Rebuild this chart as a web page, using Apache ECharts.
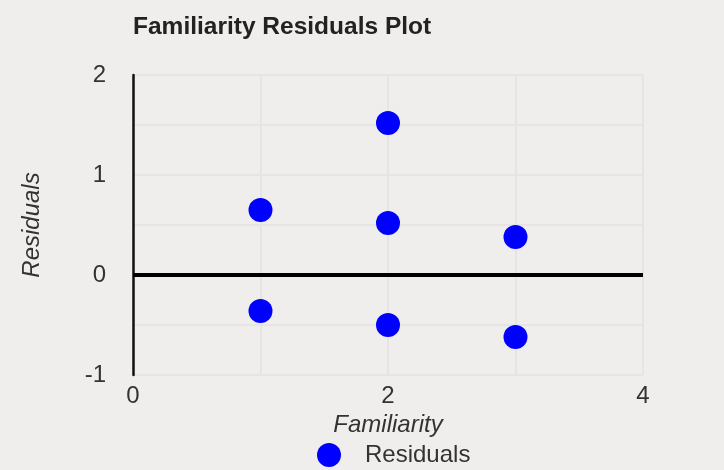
<!DOCTYPE html>
<html>
<head>
<meta charset="utf-8">
<script src="https://cdn.jsdelivr.net/npm/echarts@6/dist/echarts.min.js"></script>
<style>
  html, body { margin: 0; padding: 0; background: #ffffff; }
  #chart { width: 724px; height: 470px; }
</style>
</head>
<body>
<div id="chart"></div>
<script>
// residuals
const familiarity = [1, 1, 2, 2, 2, 3, 3]
const residuals = [0.65, -0.36, 1.52, 0.52, -0.5, 0.38, -0.62]

const xTicks = [0, 2, 4]
const yTicks = [-1, 0, 1, 2]

const chart = echarts.init(document.getElementById('chart'))

const font = "'Liberation Sans', Arial, sans-serif"

const option = {
  backgroundColor: '#f0eeed',
  animation: false,
  title: {
    text: 'Familiarity Residuals Plot',
    left: 133,
    top: 15,
    padding: 0,
    textStyle: { fontFamily: font, fontSize: 24.5, fontWeight: 'bold', color: '#222222' }
  },
  legend: {
    data: ['Residuals'],
    left: 317,
    top: 443,
    padding: 0,
    icon: 'circle',
    itemWidth: 24,
    itemHeight: 24,
    textStyle: { fontFamily: font, fontSize: 24, color: '#333333', padding: [0, 0, 0, 19] }
  },
  grid: {
    left: 133,
    right: 81,
    top: 75,
    bottom: 95,
    containLabel: false
  },
  xAxis: {
    type: 'value',
    min: 0,
    max: 4,
    interval: 1,
    name: 'Familiarity',
    nameLocation: 'middle',
    nameGap: 36,
    nameTextStyle: { fontFamily: font, fontSize: 24, fontStyle: 'italic', color: '#333333' },
    axisLine: { show: false },
    axisTick: { show: false },
    axisLabel: {
      fontFamily: font,
      fontSize: 24,
      color: '#333333',
      margin: 9,
      formatter: (v) => (xTicks.includes(v) ? String(v) : '')
    },
    splitLine: { show: true, lineStyle: { color: '#e6e4e5', width: 2 } }
  },
  yAxis: {
    type: 'value',
    min: -1,
    max: 2,
    interval: 0.5,
    name: 'Residuals',
    nameLocation: 'middle',
    nameGap: 89,
    nameTextStyle: { fontFamily: font, fontSize: 24, fontStyle: 'italic', color: '#333333' },
    axisLine: { show: true, onZero: false, lineStyle: { color: '#111111', width: 2.5 } },
    axisTick: { show: false },
    axisLabel: {
      fontFamily: font,
      fontSize: 24,
      color: '#333333',
      margin: 27,
      formatter: (v) => (yTicks.includes(v) ? String(v) : '')
    },
    splitLine: { show: true, lineStyle: { color: '#e6e4e5', width: 2 } }
  },
  series: [
    {
      name: 'Residuals',
      type: 'scatter',
      data: familiarity.map((x, i) => [x, residuals[i]]),
      symbol: 'circle',
      symbolSize: 24,
      itemStyle: { color: '#0000ff', opacity: 1 },
      markLine: {
        silent: true,
        symbol: 'none',
        label: { show: false },
        lineStyle: { color: '#000000', width: 4, type: 'solid' },
        data: [{ yAxis: 0 }]
      }
    }
  ]
}

chart.setOption(option)
</script>
</body>
</html>
